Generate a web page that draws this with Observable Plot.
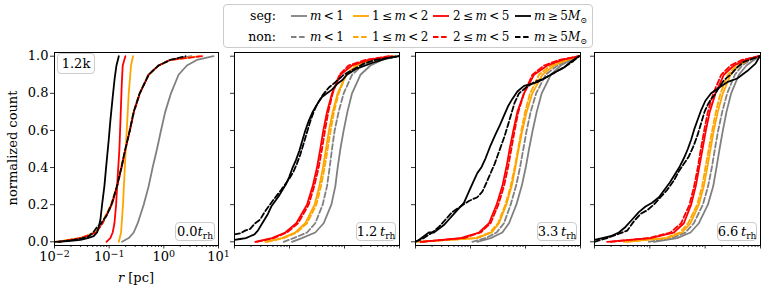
<!DOCTYPE html>
<html><head><meta charset="utf-8">
<script src="https://cdn.jsdelivr.net/npm/d3@7"></script>
<script src="https://cdn.jsdelivr.net/npm/@observablehq/plot@0.6"></script>
<style>
body{margin:0;background:#fff;}
#fig{position:relative;width:768px;height:288px;font-family:"DejaVu Serif",serif;color:#000;overflow:hidden;background:#fff;}
.panel{position:absolute;top:0;}
.abs{position:absolute;white-space:nowrap;line-height:1;}
.box{position:absolute;border:1px solid #cccccc;border-radius:4px;background:rgba(255,255,255,0.8);display:flex;align-items:center;justify-content:center;font-size:13px;box-sizing:border-box;}
.box span{white-space:nowrap;line-height:1;}
.box sub,.lab sub{font-size:0.7em;vertical-align:-0.3em;line-height:0;}
.lg{position:absolute;border:1px solid #cccccc;border-radius:4px;background:#fff;box-sizing:border-box;}
.lab{position:absolute;white-space:nowrap;font-size:12px;line-height:1;transform:translateY(-50%);}
</style></head>
<body><div id="fig"></div>
<script>
// ---------------- data ----------------
const binLabels = ["<i>m</i>&thinsp;&lt;&thinsp;1", "1&thinsp;≤&thinsp;<i>m</i>&thinsp;&lt;&thinsp;2", "2&thinsp;≤&thinsp;<i>m</i>&thinsp;&lt;&thinsp;5", "<i>m</i>&thinsp;≥&thinsp;5<i>M</i><sub>⊙</sub>"];
const binColors = ["#808080", "#ffa500", "#ff0000", "#000000"];
const rowLabels = ["seg:", "non:"];
const panelTimes = ["0.0", "1.2", "3.3", "6.6"];
const clusterLabel = "1.2k";
const xMajor = [0.01, 0.1, 1, 10];
const xTickLabels = ["10^−2", "10^−1", "10^0", "10^1"];
const yTicks = [0, 0.2, 0.4, 0.6, 0.8, 1.0];

// cumulative levels for the smooth curves
const levels = [0, 0.02, 0.05, 0.1, 0.2, 0.3, 0.4, 0.5, 0.6, 0.7, 0.8, 0.9, 0.95, 0.98, 1];

// Panel 1: 0.0 t_rh
const p1GraySeg = [0.172, 0.228, 0.281, 0.333, 0.428, 0.528, 0.624, 0.750, 0.887, 1.06, 1.35, 1.86, 2.64, 4.02, 8.1];
const p1GrayNon = [0.0115, 0.031, 0.057, 0.076, 0.112, 0.141, 0.169, 0.200, 0.240, 0.285, 0.365, 0.52, 0.79, 1.28, 3.2];
const p1OrangeNon = [0.0105, 0.029, 0.055, 0.073, 0.108, 0.138, 0.166, 0.197, 0.236, 0.279, 0.358, 0.535, 0.81, 1.35, 4.5];
const p1RedNon = [0.012, 0.030, 0.058, 0.075, 0.111, 0.140, 0.168, 0.199, 0.239, 0.283, 0.364, 0.525, 0.80, 1.30, 5.0];
const p1OrangeSegY = [0, 0.05, 0.2, 0.5, 0.8, 0.95, 1];
const p1OrangeSegR = [0.150, 0.165, 0.179, 0.201, 0.228, 0.251, 0.273];
const p1RedSegY = [0, 0.02, 0.05, 0.1, 0.2, 0.35, 0.5, 0.7, 0.85, 0.95, 1];
const p1RedSegR = [0.0891, 0.105, 0.116, 0.125, 0.134, 0.143, 0.154, 0.163, 0.170, 0.177, 0.198];
const p1BlackSegY = [0, 0.005, 0.01, 0.02, 0.03, 0.05, 0.08, 0.12, 0.2, 0.3, 0.42, 0.55, 0.65, 0.78, 0.88, 0.95, 1];
const p1BlackSegR = [0.0120, 0.0196, 0.0298, 0.0406, 0.0522, 0.0601, 0.0645, 0.0692, 0.0742, 0.0818, 0.0891, 0.0982, 0.105, 0.116, 0.126, 0.136, 0.150];
const p1BlackNonY = [0, 0.005, 0.015, 0.025, 0.05, 0.08, 0.095, 0.14, 0.2, 0.3, 0.4, 0.5, 0.6, 0.7, 0.8, 0.9, 0.95, 0.98, 1];
const p1BlackNonR = [0.0104, 0.0170, 0.0278, 0.0406, 0.0508, 0.0601, 0.0692, 0.0891, 0.110, 0.139, 0.167, 0.198, 0.238, 0.281, 0.362, 0.528, 0.803, 1.31, 2.5];

// Panel 2: 1.2 t_rh
const p2GraySeg = [0.111, 0.168, 0.294, 0.418, 0.577, 0.682, 0.751, 0.841, 0.966, 1.13, 1.37, 1.95, 2.96, 4.83, 9.7];
const p2GrayNon = [0.0782, 0.119, 0.208, 0.294, 0.401, 0.481, 0.537, 0.593, 0.662, 0.783, 0.966, 1.37, 2.09, 3.65, 8.45];
const p2OrangeSeg = [0.0362, 0.0728, 0.127, 0.194, 0.286, 0.348, 0.406, 0.461, 0.522, 0.610, 0.751, 1.07, 1.69, 3.17, 7.87];
const p2OrangeNon = [0.0388, 0.0782, 0.136, 0.208, 0.308, 0.374, 0.435, 0.494, 0.561, 0.644, 0.783, 1.07, 1.58, 2.76, 7.35];
const p2RedSeg = [0.0238, 0.0479, 0.0838, 0.133, 0.208, 0.264, 0.316, 0.363, 0.412, 0.481, 0.593, 0.841, 1.37, 2.76, 7.35];
const p2RedNon = [0.0255, 0.0513, 0.0897, 0.143, 0.223, 0.282, 0.339, 0.390, 0.442, 0.508, 0.610, 0.807, 1.19, 2.40, 6.38];
const p2BlackSegY = [0.01, 0.015, 0.02, 0.03, 0.04, 0.06, 0.09, 0.12, 0.15, 0.19, 0.22, 0.25, 0.28, 0.31, 0.35, 0.40, 0.44, 0.49, 0.55, 0.60, 0.65, 0.70, 0.74, 0.78, 0.80, 0.82, 0.85, 0.87, 0.90, 0.93, 0.95, 0.97, 0.99, 1.0];
const p2BlackSegR = [0.0100, 0.0127, 0.0161, 0.0193, 0.0231, 0.0266, 0.0306, 0.0352, 0.0405, 0.0466, 0.0551, 0.0651, 0.0748, 0.0861, 0.0990, 0.114, 0.131, 0.151, 0.173, 0.194, 0.223, 0.264, 0.316, 0.390, 0.481, 0.593, 0.731, 0.902, 1.11, 1.58, 2.40, 3.65, 5.96, 9.7];
const p2BlackNonY = [0.04, 0.045, 0.06, 0.07, 0.10, 0.12, 0.16, 0.19, 0.22, 0.25, 0.28, 0.31, 0.34, 0.38, 0.42, 0.47, 0.53, 0.59, 0.65, 0.70, 0.75, 0.79, 0.83, 0.86, 0.90, 0.93, 0.96, 0.98, 1.0];
const p2BlackNonR = [0.0100, 0.0127, 0.0156, 0.0193, 0.0238, 0.0293, 0.0352, 0.0416, 0.0492, 0.0590, 0.0708, 0.0838, 0.0990, 0.119, 0.136, 0.157, 0.181, 0.208, 0.239, 0.275, 0.330, 0.401, 0.515, 0.682, 0.966, 1.47, 2.24, 3.65, 9.7];

// Panel 3: 3.3 t_rh
const p3GraySeg = [0.133, 0.232, 0.379, 0.501, 0.682, 0.853, 1.01, 1.16, 1.35, 1.60, 1.97, 2.88, 4.38, 6.66, 9.44];
const p3GrayNon = [0.108, 0.188, 0.298, 0.406, 0.537, 0.672, 0.794, 0.914, 1.05, 1.24, 1.56, 2.33, 3.80, 6.21, 9.44];
const p3OrangeSeg = [0.0107, 0.133, 0.242, 0.330, 0.448, 0.561, 0.654, 0.751, 0.877, 1.05, 1.33, 2.03, 3.31, 5.79, 9.44];
const p3OrangeNon = [0.0123, 0.124, 0.226, 0.316, 0.430, 0.537, 0.635, 0.731, 0.841, 0.981, 1.21, 1.76, 2.88, 5.04, 9.44];
const p3RedSeg = [0.0123, 0.0660, 0.143, 0.217, 0.298, 0.379, 0.448, 0.515, 0.601, 0.711, 0.939, 1.43, 2.50, 4.69, 9.44];
const p3RedNon = [0.0132, 0.0759, 0.153, 0.232, 0.321, 0.406, 0.481, 0.553, 0.635, 0.741, 0.939, 1.33, 2.18, 4.08, 9.44];
const p3BlackSegY = [0, 0.01, 0.03, 0.05, 0.05, 0.07, 0.09, 0.12, 0.15, 0.18, 0.21, 0.27, 0.33, 0.37, 0.40, 0.45, 0.52, 0.58, 0.63, 0.68, 0.73, 0.77, 0.81, 0.84, 0.85, 0.86, 0.88, 0.90, 0.92, 0.94, 0.97, 1.0];
const p3BlackSegR = [0.0100, 0.0115, 0.0142, 0.0175, 0.0216, 0.0266, 0.0328, 0.0405, 0.0499, 0.0615, 0.0759, 0.0935, 0.115, 0.133, 0.157, 0.188, 0.232, 0.286, 0.344, 0.406, 0.481, 0.577, 0.711, 0.939, 1.24, 1.64, 2.18, 2.88, 3.80, 5.04, 6.66, 9.44];
const p3BlackNonY = [0, 0.02, 0.05, 0.08, 0.12, 0.16, 0.19, 0.22, 0.24, 0.27, 0.32, 0.37, 0.42, 0.47, 0.52, 0.57, 0.63, 0.69, 0.75, 0.80, 0.83, 0.86, 0.88, 0.91, 0.94, 0.97, 1.0];
const p3BlackNonR = [0.0100, 0.0142, 0.0201, 0.0266, 0.0352, 0.0466, 0.0660, 0.0935, 0.133, 0.164, 0.196, 0.232, 0.275, 0.316, 0.363, 0.418, 0.481, 0.553, 0.635, 0.762, 1.01, 1.43, 2.18, 3.31, 5.04, 7.14, 9.44];

// Panel 4: 6.6 t_rh
const p4GraySeg = [0.118, 0.312, 0.543, 0.769, 1.12, 1.40, 1.60, 1.82, 2.09, 2.43, 2.95, 4.06, 5.58, 7.58, 9.72];
const p4GrayNon = [0.0959, 0.253, 0.441, 0.624, 0.908, 1.13, 1.32, 1.50, 1.72, 2.03, 2.50, 3.44, 4.66, 6.59, 9.33];
const p4OrangeSeg = [0.0339, 0.206, 0.384, 0.543, 0.769, 0.946, 1.09, 1.25, 1.43, 1.69, 2.09, 2.87, 4.06, 6.15, 9.33];
const p4OrangeNon = [0.0389, 0.192, 0.348, 0.493, 0.716, 0.883, 1.01, 1.16, 1.34, 1.56, 1.89, 2.57, 3.68, 5.74, 9.33];
const p4RedSeg = [0.0169, 0.103, 0.272, 0.412, 0.558, 0.677, 0.780, 0.896, 1.03, 1.21, 1.54, 2.17, 3.30, 5.36, 9.33];
const p4RedNon = [0.0195, 0.0959, 0.236, 0.368, 0.521, 0.632, 0.736, 0.836, 0.960, 1.12, 1.40, 1.95, 2.87, 4.66, 9.33];
const p4BlackSegY = [0.01, 0.02, 0.03, 0.05, 0.08, 0.12, 0.16, 0.19, 0.21, 0.24, 0.28, 0.32, 0.36, 0.40, 0.45, 0.50, 0.55, 0.61, 0.66, 0.71, 0.76, 0.80, 0.83, 0.86, 0.88, 0.92, 0.96, 1.0];
const p4BlackSegR = [0.0100, 0.0138, 0.0195, 0.0275, 0.0363, 0.0480, 0.0632, 0.0836, 0.110, 0.146, 0.184, 0.230, 0.279, 0.339, 0.412, 0.486, 0.558, 0.641, 0.737, 0.847, 1.01, 1.28, 1.77, 2.50, 3.79, 5.74, 8.12, 9.72];
const p4BlackNonY = [0, 0.02, 0.04, 0.06, 0.11, 0.15, 0.17, 0.20, 0.24, 0.28, 0.33, 0.38, 0.42, 0.46, 0.52, 0.58, 0.64, 0.70, 0.74, 0.77, 0.79, 0.83, 0.87, 0.90, 0.94, 0.97, 1.0];
const p4BlackNonR = [0.0100, 0.0169, 0.0257, 0.0389, 0.0514, 0.0678, 0.0895, 0.118, 0.156, 0.206, 0.272, 0.334, 0.412, 0.507, 0.624, 0.737, 0.847, 0.973, 1.12, 1.28, 1.47, 1.77, 2.17, 2.87, 3.79, 5.00, 9.72];

// ---------------- build ----------------
const C = (r, y, bin, dashed) => ({data: r.map((v, i) => ({r: v, c: y[i]})), bin, dashed});
const panelCurves = [
  [C(p1GraySeg, levels, 0, false), C(p1GrayNon, levels, 0, true),
   C(p1OrangeSegR, p1OrangeSegY, 1, false), C(p1OrangeNon, levels, 1, true),
   C(p1RedSegR, p1RedSegY, 2, false), C(p1RedNon, levels, 2, true),
   C(p1BlackSegR, p1BlackSegY, 3, false), C(p1BlackNonR, p1BlackNonY, 3, true)],
  [C(p2GraySeg, levels, 0, false), C(p2GrayNon, levels, 0, true),
   C(p2OrangeSeg, levels, 1, false), C(p2OrangeNon, levels, 1, true),
   C(p2RedSeg, levels, 2, false), C(p2RedNon, levels, 2, true),
   C(p2BlackSegR, p2BlackSegY, 3, false), C(p2BlackNonR, p2BlackNonY, 3, true)],
  [C(p3GraySeg, levels, 0, false), C(p3GrayNon, levels, 0, true),
   C(p3OrangeSeg, levels, 1, false), C(p3OrangeNon, levels, 1, true),
   C(p3RedSeg, levels, 2, false), C(p3RedNon, levels, 2, true),
   C(p3BlackSegR, p3BlackSegY, 3, false), C(p3BlackNonR, p3BlackNonY, 3, true)],
  [C(p4GraySeg, levels, 0, false), C(p4GrayNon, levels, 0, true),
   C(p4OrangeSeg, levels, 1, false), C(p4OrangeNon, levels, 1, true),
   C(p4RedSeg, levels, 2, false), C(p4RedNon, levels, 2, true),
   C(p4BlackSegR, p4BlackSegY, 3, false), C(p4BlackNonR, p4BlackNonY, 3, true)]
];

const layout = [
  {left: 0, width: 222, ml: 54, mr: 4},
  {left: 230, width: 173, ml: 4, mr: 4},
  {left: 411, width: 173, ml: 4, mr: 4},
  {left: 590, width: 174, ml: 4, mr: 4}
];
const xMinor = [];
for (const d of xMajor.slice(0, 3)) for (let k = 2; k <= 9; k++) xMinor.push(+(d * k).toPrecision(3));

const fig = document.getElementById("fig");
const LW = 1.8;

panelCurves.forEach((curves, p) => {
  const L = layout[p];
  const first = p === 0;
  const marks = [];
  for (const cv of curves) {
    marks.push(Plot.line(cv.data, {
      x: "r", y: "c", stroke: binColors[cv.bin], strokeWidth: LW,
      strokeDasharray: cv.dashed ? "5.5,2.6" : null, clip: true
    }));
  }
  marks.push(Plot.frame({stroke: "#000", strokeWidth: 1}));
  marks.push(Plot.axisX({ticks: xMinor, tickSize: 2, tickFormat: () => "", label: null, strokeWidth: 0.8}));
  marks.push(Plot.axisX({ticks: xMajor, tickSize: 3.5, tickPadding: 3, label: null, strokeWidth: 0.8,
    tickFormat: first ? (d) => xTickLabels[xMajor.indexOf(d)] : () => "", fontSize: 13}));
  marks.push(Plot.axisY({ticks: yTicks, tickSize: 4, tickPadding: 2, label: null, strokeWidth: 0.8,
    tickFormat: first ? d3.format(".1f") : () => "", fontSize: 13}));
  const chart = Plot.plot({
    width: L.width, height: 288,
    marginTop: 52, marginBottom: 43, marginLeft: L.ml, marginRight: L.mr,
    style: {fontFamily: "DejaVu Serif", fontSize: "13px", background: "transparent", color: "#000", overflow: "visible"},
    x: {type: "log", domain: [0.01, 10]},
    y: {domain: [-0.02, 1.02]},
    marks
  });
  // render exponents of the x tick labels as raised smaller text
  d3.select(chart).selectAll("text").each(function () {
    const s = this.textContent;
    if (!s.includes("^")) return;
    const [base, ex] = s.split("^");
    const t = d3.select(this);
    t.text(null);
    t.append("tspan").text(base);
    t.append("tspan").attr("dy", "-0.45em").attr("font-size", "9.5px").text(ex);
  });
  chart.classList.add("panel");
  chart.style.left = L.left + "px";
  fig.appendChild(chart);

  // time label box (bottom right)
  const frameRight = L.left + L.width - L.mr;
  const tb = document.createElement("div");
  tb.className = "box";
  tb.style.left = (frameRight - 43) + "px";
  tb.style.top = "222px";
  tb.style.width = "40px";
  tb.style.height = "19px";
  tb.innerHTML = "<span>" + panelTimes[p] + (first ? "" : "&thinsp;") + "<i>t</i><sub>rh</sub></span>";
  fig.appendChild(tb);
});

// cluster label box
const cb = document.createElement("div");
cb.className = "box";
Object.assign(cb.style, {left: "57px", top: "53px", width: "38px", height: "21px"});
cb.innerHTML = "<span>" + clusterLabel + "</span>";
fig.appendChild(cb);

// axis labels
const yl = document.createElement("div");
yl.className = "abs";
Object.assign(yl.style, {left: "12px", top: "148px", fontSize: "13px", transform: "translate(-50%,-50%) rotate(-90deg)"});
yl.textContent = "normalized count";
fig.appendChild(yl);
const xl = document.createElement("div");
xl.className = "abs";
Object.assign(xl.style, {left: "136px", top: "277px", fontSize: "13px", transform: "translate(-50%,-50%)"});
xl.innerHTML = "<i>r</i> [pc]";
fig.appendChild(xl);

// legend
const lg = document.createElement("div");
lg.className = "lg";
Object.assign(lg.style, {left: "223px", top: "4px", width: "370px", height: "44px"});
fig.appendChild(lg);
const rowY = [16, 37];
const handleX = [291, 353, 433, 515];
const textX = [310, 372, 453, 534];
rowLabels.forEach((rl, r) => {
  const t = document.createElement("div");
  t.className = "lab";
  Object.assign(t.style, {left: "228px", width: "48px", top: rowY[r] + "px", textAlign: "right", fontSize: "12.5px"});
  t.textContent = rl;
  fig.appendChild(t);
  binLabels.forEach((bl, b) => {
    const svg = d3.create("svg").attr("width", 17).attr("height", 6)
      .style("position", "absolute").style("left", handleX[b] + "px").style("top", (rowY[r] - 3) + "px");
    svg.append("line").attr("x1", 0).attr("x2", 16).attr("y1", 3).attr("y2", 3)
      .attr("stroke", binColors[b]).attr("stroke-width", LW)
      .attr("stroke-dasharray", r === 1 ? "5.5,2.6" : null);
    fig.appendChild(svg.node());
    const lt = document.createElement("div");
    lt.className = "lab";
    Object.assign(lt.style, {left: textX[b] + "px", top: rowY[r] + "px"});
    lt.innerHTML = bl;
    fig.appendChild(lt);
  });
});
</script>
</body></html>
